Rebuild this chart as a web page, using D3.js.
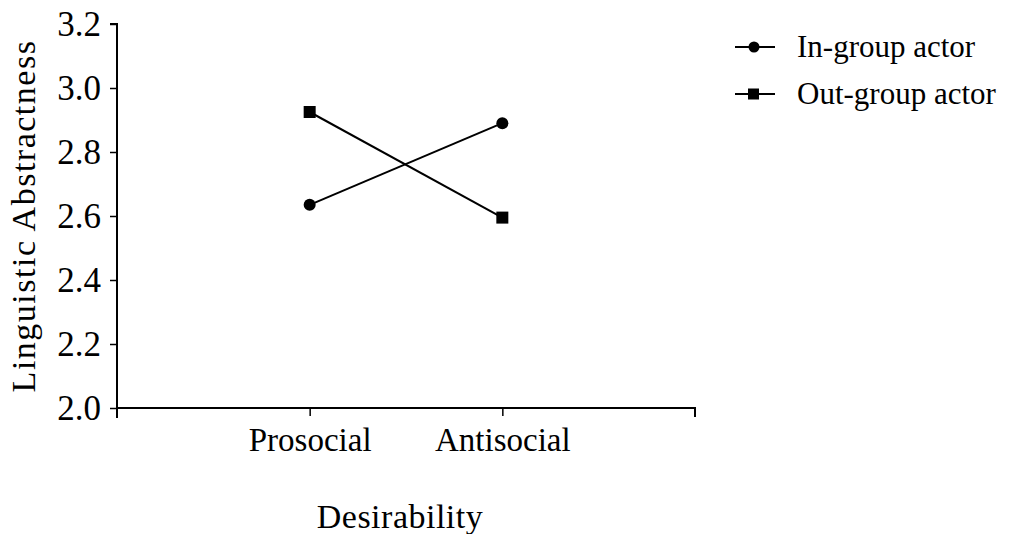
<!DOCTYPE html>
<html><head><meta charset="utf-8">
<script src="https://cdn.jsdelivr.net/npm/d3@7"></script>
<style>body{margin:0;background:#fff}svg{display:block}</style>
</head><body><svg id="c" width="1017" height="534" font-family="'Liberation Serif', 'Times New Roman', serif"></svg>
<script>
const categories = ["Prosocial", "Antisocial"];
const inGroup = [2.635, 2.89];
const outGroup = [2.925, 2.595];
const yTicks = [2.0, 2.2, 2.4, 2.6, 2.8, 3.0, 3.2];
const seriesNames = ["In-group actor", "Out-group actor"];

const FONT = "'Liberation Serif', 'Times New Roman', serif";
const svg = d3.select("#c");
const x = d3.scaleLinear().domain([0, 3]).range([117, 695]);
const y = d3.scaleLinear().domain([2.0, 3.2]).range([408, 24]);

// y axis
const ya = svg.append("g").attr("transform", "translate(117,0)")
  .call(d3.axisLeft(y).tickValues(yTicks).tickFormat(d3.format(".1f")).tickSize(7).tickPadding(9));
ya.attr("font-size", null).attr("font-family", FONT);
ya.select(".domain").attr("d", "M-7,24H0V418").attr("stroke", "#000").attr("stroke-width", 2);
ya.selectAll(".tick line").attr("stroke-width", 1.5);
ya.selectAll("text").attr("font-size", 35).attr("font-family", FONT).attr("dy", "0.34em").attr("fill", "#000");

// x axis
const xa = svg.append("g").attr("transform", "translate(0,408)")
  .call(d3.axisBottom(x).tickValues([1, 2]).tickFormat(d => categories[d - 1]).tickSize(8).tickPadding(12));
xa.attr("font-size", null).attr("font-family", FONT);
xa.select(".domain").attr("d", "M117,0H695V9").attr("stroke", "#000").attr("stroke-width", 2);
xa.selectAll(".tick line").attr("stroke-width", 1.5);
xa.selectAll("text").attr("font-size", 33).attr("font-family", FONT).attr("fill", "#000");

// axis titles
svg.append("text").attr("transform", "translate(35,216) rotate(-90)").attr("font-family", FONT)
  .attr("text-anchor", "middle").attr("font-size", 34).attr("letter-spacing", 1.5).text("Linguistic Abstractness");
svg.append("text").attr("x", 400).attr("y", 528).attr("font-family", FONT)
  .attr("text-anchor", "middle").attr("font-size", 34).attr("letter-spacing", 0.5).text("Desirability");

const line = d3.line().x((d, i) => x(i + 1)).y(d => y(d));
const series = [inGroup, outGroup];
series.forEach((s, k) => {
  svg.append("path").attr("d", line(s)).attr("fill", "none").attr("stroke", "#000").attr("stroke-width", 2);
  s.forEach((v, i) => {
    if (k === 0) svg.append("circle").attr("cx", x(i + 1)).attr("cy", y(v)).attr("r", 6).attr("fill", "#000");
    else svg.append("rect").attr("x", x(i + 1) - 6).attr("y", y(v) - 6).attr("width", 12).attr("height", 12).attr("fill", "#000");
  });
});

// legend
const ly = [47, 94];
seriesNames.forEach((n, k) => {
  const g = svg.append("g").attr("transform", `translate(0,${ly[k]})`);
  g.append("line").attr("x1", 735).attr("x2", 775).attr("y1", 0).attr("y2", 0).attr("stroke", "#000").attr("stroke-width", 2);
  if (k === 0) g.append("circle").attr("cx", 754).attr("cy", 0).attr("r", 5.5).attr("fill", "#000");
  else g.append("rect").attr("x", 748).attr("y", -5.5).attr("width", 11).attr("height", 11).attr("fill", "#000");
  g.append("text").attr("x", 797).attr("y", 0).attr("dy", "0.33em").attr("font-family", FONT).attr("font-size", 31).text(n);
});
</script></body></html>
